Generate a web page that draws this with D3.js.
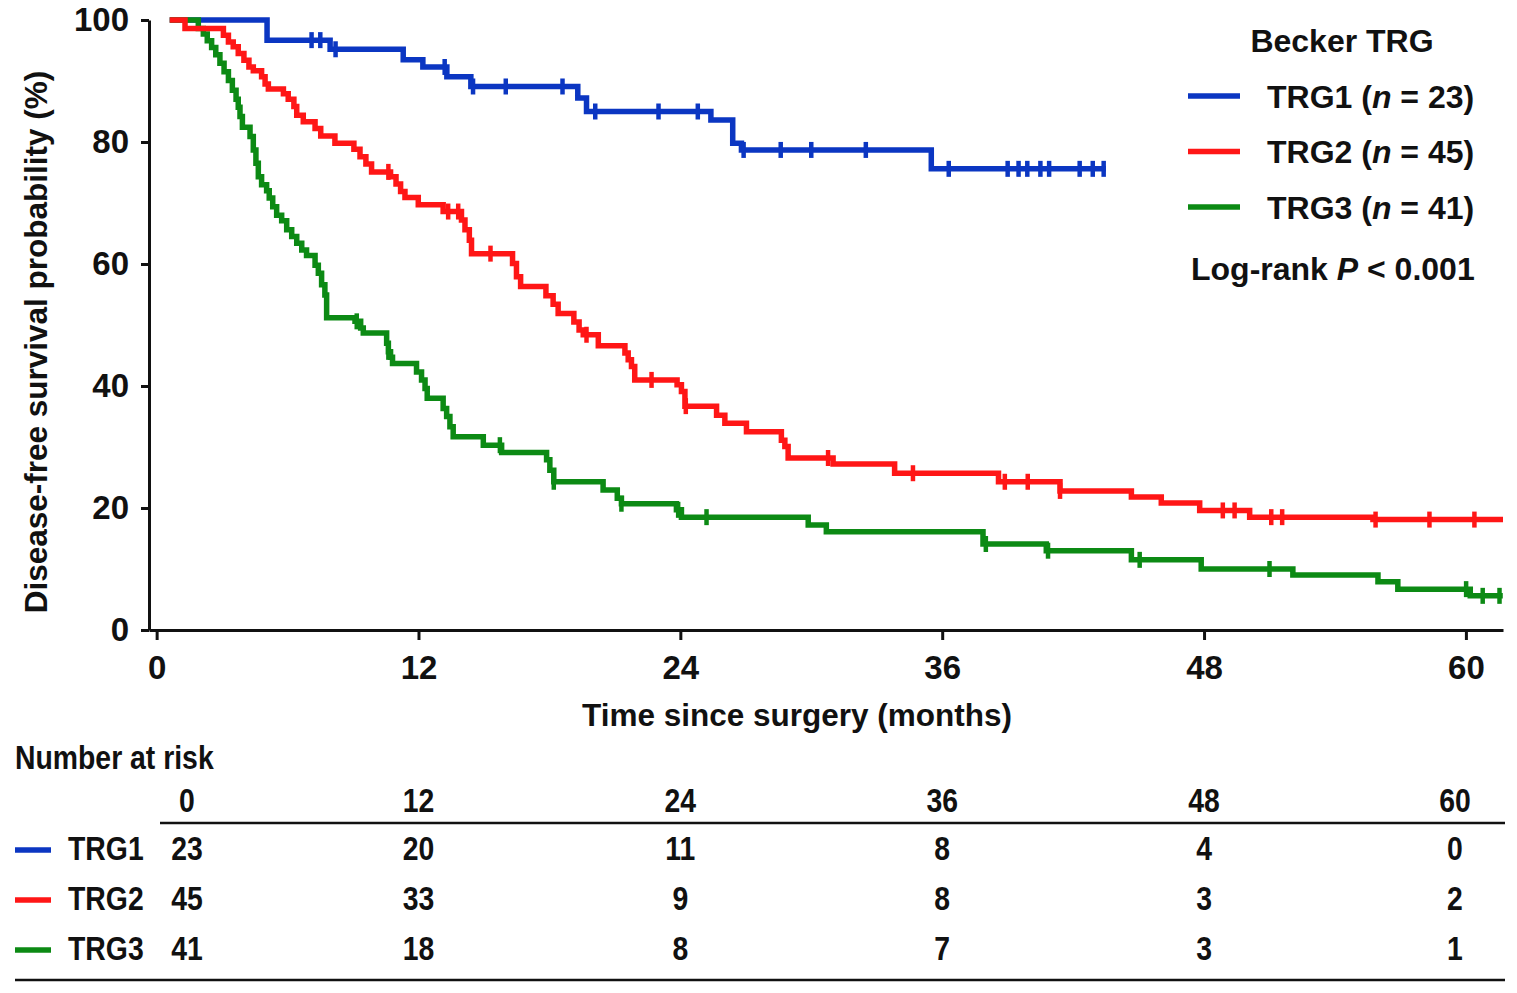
<!DOCTYPE html>
<html>
<head>
<meta charset="utf-8">
<script src="https://cdn.jsdelivr.net/npm/d3@7"></script>
<style>
  html, body { margin: 0; padding: 0; background: #fff; }
  svg { display: block; }
  text { font-family: "Liberation Sans", Arial, sans-serif; font-weight: bold; fill: #111; }
</style>
</head>
<body>
<svg id="chart" width="1517" height="993"></svg>
<script>
// ---------------- data ----------------
const groups = ["TRG1", "TRG2", "TRG3"];
const groupN = [23, 45, 41];
const groupColors = ["#0b36c2", "#ff1616", "#0c8a14"];

// TRG1 (blue) Kaplan-Meier steps: time (months) and survival (%)
const trg1Times = [0.6, 5.06, 7.95, 11.3, 12.2, 13.3, 14.4, 19.3, 19.7, 25.4, 26.4, 26.8, 35.5];
const trg1Surv  = [100, 96.7, 95.2, 93.5, 92.3, 90.7, 89.1, 87.2, 85.0, 83.6, 79.8, 78.7, 75.6];
const trg1End = 43.5;
const trg1Censor = [7.1, 7.5, 8.2, 13.2, 14.5, 16.0, 18.6, 20.1, 23.0, 24.8, 26.9, 28.6, 30.0, 32.5,
                    36.3, 39.0, 39.5, 39.9, 40.5, 40.9, 42.3, 42.9, 43.4];

// TRG2 (red)
const trg2Times = [0.6, 1.30, 3.06, 3.29, 3.51, 3.74, 4.00, 4.23, 4.43, 4.81, 4.97, 5.12, 5.81, 6.03, 6.29,
                   6.42, 6.72, 7.26, 7.52, 8.17, 9.04, 9.32, 9.59, 9.85, 10.72, 10.97, 11.18, 11.38, 11.99,
                   13.13, 13.97, 14.13, 14.33, 14.43, 16.31, 16.49, 16.68, 17.84, 18.17, 18.40, 19.12, 19.36,
                   19.55, 20.24, 21.46, 21.61, 21.76, 21.91, 23.85, 24.05, 24.21, 25.66, 26.04, 27.03, 28.63,
                   28.79, 28.94, 31.00, 33.82, 38.58, 41.40, 44.67, 46.04, 47.80, 50.09, 55.74];
const trg2Surv  = [100, 98.6, 97.5, 96.4, 95.6, 94.5, 93.4, 92.3, 91.7, 90.7, 89.5, 88.7, 87.9, 87.0, 85.8,
                   84.4, 83.3, 82.2, 81.0, 79.8, 78.8, 77.6, 76.4, 75.1, 74.3, 73.1, 71.9, 70.9, 69.7,
                   68.6, 67.2, 65.6, 63.9, 61.7, 60.1, 57.9, 56.3, 54.8, 53.4, 51.9, 50.5, 49.2,
                   48.4, 46.6, 45.4, 44.3, 43.2, 41.0, 40.2, 39.1, 36.7, 35.2, 33.9, 32.5, 31.1,
                   30.1, 28.2, 27.2, 25.7, 24.3, 22.8, 21.8, 20.8, 19.6, 18.5, 18.1];
const trg2End = 61.7;
const trg2Censor = [10.62, 13.36, 13.82, 15.30, 19.70, 22.68, 24.25, 30.77, 34.66, 38.87, 39.92, 41.40,
                    48.86, 49.40, 51.08, 51.58, 55.86, 58.33, 60.39];

// TRG3 (green)
const trg3Times = [0.6, 1.91, 2.14, 2.32, 2.52, 2.71, 2.90, 3.09, 3.29, 3.47, 3.64, 3.74, 3.82, 3.93, 4.28,
                   4.43, 4.55, 4.66, 4.81, 5.04, 5.16, 5.32, 5.50, 5.73, 5.96, 6.19, 6.42, 6.65, 6.87, 7.26,
                   7.41, 7.56, 7.71, 7.79, 9.09, 9.35, 9.47, 10.54, 10.62, 10.72, 10.81, 11.91, 12.14, 12.30,
                   12.40, 13.13, 13.29, 13.44, 13.59, 14.97, 15.81, 17.87, 18.02, 18.20, 20.46, 21.11, 21.30,
                   23.82, 24.05, 29.86, 30.69, 37.87, 40.77, 44.67, 47.87, 52.07, 55.97, 56.88, 60.20];
const trg3Surv  = [100, 98.6, 97.7, 96.6, 95.5, 94.3, 92.9, 91.5, 90.1, 88.5, 87.0, 85.7, 84.2, 82.4, 80.9,
                   78.7, 76.5, 74.3, 73.0, 72.0, 70.8, 69.4, 68.0, 67.1, 65.6, 64.5, 63.4, 62.3, 61.4, 59.8,
                   58.5, 56.6, 54.9, 51.2, 50.6, 49.5, 48.7, 47.0, 45.6, 44.7, 43.7, 42.3, 41.0, 39.6,
                   38.0, 36.3, 35.0, 33.3, 31.7, 30.3, 29.1, 27.9, 26.2, 24.3, 22.95, 21.6, 20.7,
                   19.7, 18.5, 17.2, 16.1, 14.1, 13.0, 11.5, 10.0, 9.0, 7.9, 6.7, 5.6];
const trg3End = 61.69;
const trg3Censor = [9.17, 10.62, 15.73, 18.20, 21.30, 23.90, 25.20, 38.0, 40.85, 45.05, 51.0, 60.01, 60.77, 61.54];

// axis ticks
const xTicks = [0, 12, 24, 36, 48, 60];
const yTicks = [0, 20, 40, 60, 80, 100];

// number at risk table
const riskTimes = [0, 12, 24, 36, 48, 60];
const riskTRG1 = [23, 20, 11, 8, 4, 0];
const riskTRG2 = [45, 33, 9, 8, 3, 2];
const riskTRG3 = [41, 18, 8, 7, 3, 1];

// ---------------- drawing ----------------
const svg = d3.select("#chart");
const x = d3.scaleLinear().domain([-0.35, 61.7]).range([149, 1503]);
const y = d3.scaleLinear().domain([0, 100]).range([630, 20]);

const series = [
  { name: groups[0], n: groupN[0], color: groupColors[0], times: trg1Times, surv: trg1Surv, end: trg1End, censor: trg1Censor, risk: riskTRG1 },
  { name: groups[1], n: groupN[1], color: groupColors[1], times: trg2Times, surv: trg2Surv, end: trg2End, censor: trg2Censor, risk: riskTRG2 },
  { name: groups[2], n: groupN[2], color: groupColors[2], times: trg3Times, surv: trg3Surv, end: trg3End, censor: trg3Censor, risk: riskTRG3 }
];

// axes
const yAxis = svg.append("g")
  .attr("transform", `translate(${x(-0.35)},0)`)
  .call(d3.axisLeft(y).tickValues(yTicks).tickSize(8).tickSizeOuter(0).tickPadding(12));
const xAxis = svg.append("g")
  .attr("transform", `translate(0,${y(0)})`)
  .call(d3.axisBottom(x).tickValues(xTicks).tickSize(10).tickSizeOuter(0).tickPadding(16));
[yAxis, xAxis].forEach(g => {
  g.select(".domain").attr("stroke", "#111").attr("stroke-width", 3);
  g.selectAll(".tick line").attr("stroke", "#111").attr("stroke-width", 3);
  g.selectAll(".tick text").attr("font-size", 33).attr("font-weight", "bold")
    .attr("font-family", "'Liberation Sans', Arial, sans-serif").attr("fill", "#111");
});

// axis titles
svg.append("text").attr("x", 797).attr("y", 726).attr("text-anchor", "middle")
  .attr("font-size", 31.5).text("Time since surgery (months)");
svg.append("text").attr("transform", "translate(47,342) rotate(-90)").attr("text-anchor", "middle")
  .attr("font-size", 31.5).text("Disease-free survival probability (%)");

// curves
const line = d3.line().x(d => x(d[0])).y(d => y(d[1])).curve(d3.curveStepAfter);
function survAt(s, t) {
  let v = s.surv[0];
  for (let i = 0; i < s.times.length; i++) if (s.times[i] <= t) v = s.surv[i];
  return v;
}
const drawOrder = [series[0], series[2], series[1]];
drawOrder.forEach(s => {
  const pts = s.times.map((t, i) => [t, s.surv[i]]);
  pts.push([s.end, s.surv[s.surv.length - 1]]);
  const g = svg.append("g");
  g.append("path").attr("d", line(pts)).attr("fill", "none")
    .attr("stroke", s.color).attr("stroke-width", 5.5).attr("stroke-linejoin", "miter");
  g.selectAll("line.c").data(s.censor).enter().append("line")
    .attr("x1", d => x(d)).attr("x2", d => x(d))
    .attr("y1", d => y(survAt(s, d)) - 8).attr("y2", d => y(survAt(s, d)) + 8)
    .attr("stroke", s.color).attr("stroke-width", 4.5);
});

// legend
svg.append("text").attr("x", 1342).attr("y", 52).attr("text-anchor", "middle")
  .attr("font-size", 32).text("Becker TRG");
series.forEach((s, i) => {
  const ly = 96 + i * 55.5;
  svg.append("line").attr("x1", 1188).attr("x2", 1240).attr("y1", ly).attr("y2", ly)
    .attr("stroke", s.color).attr("stroke-width", 5.5);
  const t = svg.append("text").attr("x", 1267).attr("y", ly + 11.5).attr("font-size", 32);
  t.append("tspan").text(s.name + " (");
  t.append("tspan").attr("font-style", "italic").text("n");
  t.append("tspan").text(" = " + s.n + ")");
});
const lr = svg.append("text").attr("x", 1191).attr("y", 280).attr("font-size", 32);
lr.append("tspan").text("Log-rank ");
lr.append("tspan").attr("font-style", "italic").text("P");
lr.append("tspan").text(" < 0.001");

// number at risk table (condensed bold text)
const narrow = 0.86, tableFont = 33;
function tableText(tx, ty, str, anchor) {
  return svg.append("text")
    .attr("transform", `translate(${tx},${ty}) scale(${narrow},1)`)
    .attr("text-anchor", anchor || "start")
    .attr("font-size", tableFont).text(str);
}
const riskX = t => Math.min(Math.max(x(t), 187), 1455);
tableText(15, 769, "Number at risk");
riskTimes.forEach(t => tableText(riskX(t), 812, t, "middle"));
svg.append("line").attr("x1", 160).attr("x2", 1505).attr("y1", 823).attr("y2", 823)
  .attr("stroke", "#111").attr("stroke-width", 2.5);
series.forEach((s, i) => {
  const ry = 860 + i * 50;
  svg.append("line").attr("x1", 15).attr("x2", 51).attr("y1", ry - 10).attr("y2", ry - 10)
    .attr("stroke", s.color).attr("stroke-width", 5.5);
  tableText(68, ry, s.name);
  s.risk.forEach((d, j) => tableText(riskX(riskTimes[j]), ry, d, "middle"));
});
svg.append("line").attr("x1", 15).attr("x2", 1505).attr("y1", 980).attr("y2", 980)
  .attr("stroke", "#111").attr("stroke-width", 2.5);
</script>
</body>
</html>
